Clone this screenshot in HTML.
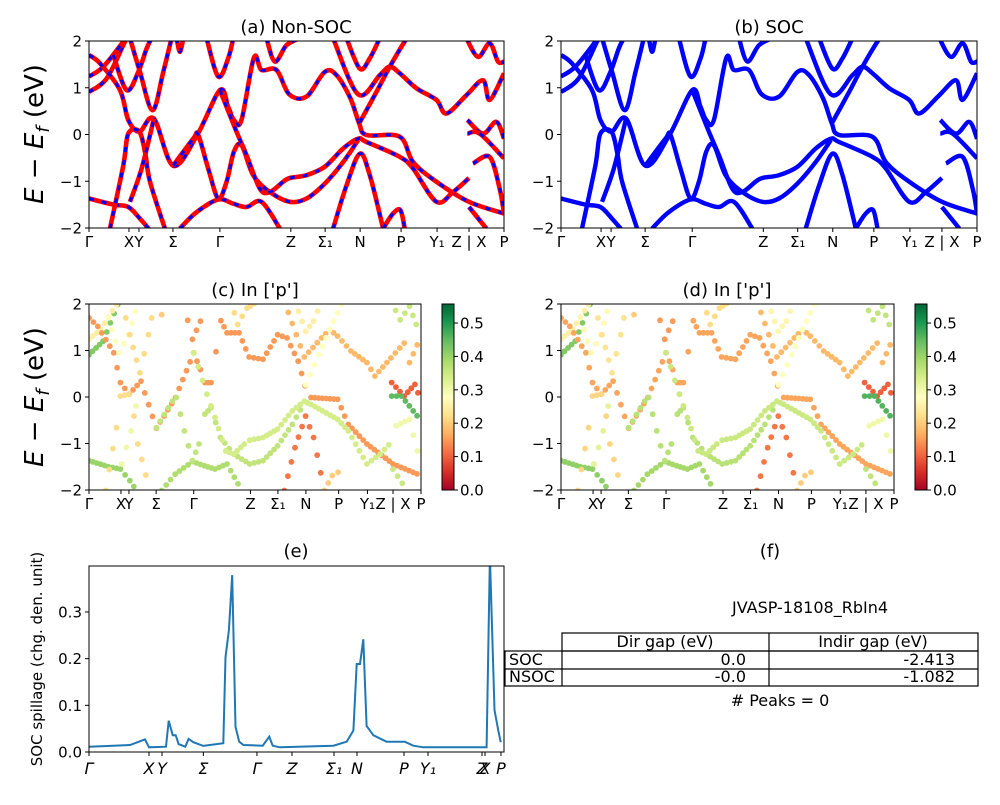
<!DOCTYPE html>
<html><head><meta charset="utf-8"><style>
body{margin:0;background:#fff;}
svg text{font-family:"DejaVu Sans","Liberation Sans",sans-serif;}
</style></head><body>
<svg id="fig" width="1000" height="800" viewBox="0 0 1000 800" xmlns="http://www.w3.org/2000/svg">
<defs>
<linearGradient id="rdylgn" x1="0" y1="1" x2="0" y2="0">
<stop offset="0" stop-color="#a50026"/><stop offset="0.1" stop-color="#d73027"/><stop offset="0.2" stop-color="#f46d43"/><stop offset="0.3" stop-color="#fdae61"/><stop offset="0.4" stop-color="#fee08b"/><stop offset="0.5" stop-color="#ffffbf"/><stop offset="0.6" stop-color="#d9ef8b"/><stop offset="0.7" stop-color="#a6d96a"/><stop offset="0.8" stop-color="#66bd63"/><stop offset="0.9" stop-color="#1a9850"/><stop offset="1" stop-color="#006837"/>
</linearGradient>
</defs>
<g id="root"></g>
</svg>
<script>
// ---- data ----
const kTotal = 1246;
const kTickPos = [0, 120, 150, 252, 393, 606, 709, 814, 937, 1045, 1141, 1246];
const kTickLabels = ["Γ","X","Y","Σ","Γ","Z","Σ₁","N","P","Y₁","Z | X","P"];
const eTicks = [2, 1, 0, -1, -2];
const eTickLabels = ["2","1","0","−1","−2"];
// bands: [k path distance, energy eV]
const band1 = [[0,0.91],[53,1.2],[108,1.99],[118,2.13]];
const band2 = [[0,1.24],[43,1.45],[103,1.99],[113,2.13]];
const band3 = [[0,1.7],[33,1.52],[93,0.95],[118,0.31],[151,0.06],[195,0.34],[253,-0.67],[325,-0.01],[393,0.95],[418,0.59],[435,0.31],[458,0.31],[495,1.64],[518,1.38],[563,1.38],[601,0.86],[653,0.81],[708,1.34],[743,1.27],[785,0.77],[811,0.24],[833,-0.01],[933,-0.05],[973,-0.59],[1043,-1.01],[1141,-1.44],[1246,-1.69]];
const band4 = [[0,-1.37],[73,-1.5],[118,-1.55],[153,-1.8],[183,-2.05]];
const band5 = [[63,-2.01],[103,-0.66],[118,0.02],[151,0.06],[169,-0.41],[183,-1.01],[228,-2.01]];
const band6 = [[73,1.7],[113,0.95],[148,1.34],[173,1.84],[188,2.06]];
const band7 = [[123,2.06],[153,1.34],[191,0.52],[223,1.34],[248,2.06]];
const band8 = [[123,-1.44],[158,-0.73],[195,0.34]];
const band9 = [[273,-2.01],[323,-1.66],[388,-1.39],[433,-1.48],[473,-1.55],[518,-1.44],[573,-2.01]];
const band10 = [[253,-0.66],[313,-0.09],[328,-0.01],[358,-0.73],[388,-1.37],[413,-1.01],[435,-0.37],[458,-0.23],[493,-0.87],[543,-1.23],[603,-1.44],[653,-1.37],[708,-1.05],[763,-0.59],[808,-0.12]];
const band11 = [[393,0.95],[443,0.06],[473,-0.44],[513,-1.16],[543,-1.23],[583,-1.01],[603,-0.93],[653,-0.87],[708,-0.69],[763,-0.3],[808,-0.09],[833,-0.16],[933,-0.48],[973,-0.73],[1043,-1.44],[1093,-1.23],[1141,-0.93]];
const band12 = [[263,2.06],[273,1.77],[283,2.06]];
const band13 = [[353,2.06],[388,1.24],[418,1.63],[433,2.06]];
const band14 = [[533,2.06],[558,1.56],[593,1.91],[633,2.06]];
const band15 = [[733,2.06],[808,0.86],[873,1.27],[903,1.45],[933,1.31],[983,0.99],[1043,0.74],[1073,0.45],[1133,0.84],[1183,1.16],[1203,0.74],[1246,1.31]];
const band16 = [[773,2.06],[813,1.41],[843,1.63],[873,2.06]];
const band17 = [[813,0.26],[863,0.91],[903,1.45],[948,1.99],[958,2.06]];
const band18 = [[733,-2.01],[773,-1.09],[813,-0.41],[843,-0.87],[883,-2.01]];
const band19 = [[883,-2.01],[913,-1.69],[935,-1.62],[948,-2.01]];
const band20 = [[1133,2.06],[1168,1.66],[1203,1.95],[1228,1.56],[1246,1.56]];
const band21 = [[1136,0.31],[1183,0.02],[1223,0.27],[1246,-0.09]];
const band22 = [[1136,0.02],[1173,0.02],[1246,-0.51]];
const band23 = [[1141,-1.55],[1193,-2.01]];
const band24 = [[1153,-0.62],[1203,-0.48],[1233,-1.16],[1246,-1.69]];
const bands = [band1,band2,band3,band4,band5,band6,band7,band8,band9,band10,band11,band12,band13,band14,band15,band16,band17,band18,band19,band20,band21,band22,band23,band24];
// In-p orbital weight per band
const weightsC = [0.42,0.25,0.15,0.4,0.22,0.28,0.22,0.3,0.38,0.36,0.34,0.2,0.15,0.22,0.18,0.25,0.28,0.12,0.2,0.35,0.1,0.45,0.35,0.3];
const weightsD = [0.42,0.25,0.16,0.41,0.21,0.27,0.23,0.32,0.39,0.37,0.35,0.2,0.15,0.22,0.18,0.26,0.28,0.12,0.2,0.36,0.1,0.46,0.36,0.3];
const cbTicks = [0,0.1,0.2,0.3,0.4,0.5];
const cbMax = 0.557;
// spillage
const spillK = [0,0.0988,0.135,0.1446,0.1855,0.192,0.2016,0.2088,0.216,0.232,0.240,0.2514,0.2755,0.3237,0.329,0.337,0.345,0.353,0.362,0.372,0.4185,0.4345,0.4426,0.460,0.5888,0.621,0.637,0.645,0.653,0.661,0.669,0.685,0.717,0.761,0.7815,0.8055,0.958,0.966,0.977,0.986,0.992];
const spillV = [0.0114,0.015,0.027,0.010,0.0114,0.067,0.036,0.036,0.017,0.0114,0.028,0.021,0.013,0.0186,0.203,0.261,0.379,0.054,0.022,0.015,0.0136,0.033,0.0136,0.010,0.0136,0.022,0.046,0.1886,0.1886,0.2414,0.056,0.036,0.022,0.022,0.0136,0.010,0.010,0.42,0.09,0.047,0.021];
const spillTicksX = [0,0.1446,0.1759,0.2755,0.4047,0.4891,0.5904,0.6458,0.7590,0.8169,0.9470,0.9542,0.9927];
const spillTickLabels = ["Γ","X","Y","Σ","Γ","Z","Σ₁","N","P","Y₁","Z","X","P"];
const spillYTicks = [0,0.1,0.2,0.3];
const spillYMax = 0.3985;

// ---- helpers ----
const NS="http://www.w3.org/2000/svg";
const root=document.getElementById('root');
function mk(tag,attrs,parent){const e=document.createElementNS(NS,tag);for(const k in attrs)e.setAttribute(k,attrs[k]);(parent||root).appendChild(e);return e;}
function txt(s,x,y,size,anchor,parent,extra){const t=mk('text',Object.assign({x:x,y:y,'font-size':size,'text-anchor':anchor||'middle',fill:'#000'},extra||{}),parent);t.textContent=s;return t;}
function smoothPath(pts){if(pts.length<3){return 'M'+pts.map(p=>p[0].toFixed(1)+','+p[1].toFixed(1)).join('L');}
 let d='M'+pts[0][0].toFixed(1)+','+pts[0][1].toFixed(1);
 for(let i=0;i<pts.length-1;i++){const p0=pts[Math.max(0,i-1)],p1=pts[i],p2=pts[i+1],p3=pts[Math.min(pts.length-1,i+2)];
  const c1=[p1[0]+(p2[0]-p0[0])/6,p1[1]+(p2[1]-p0[1])/6],c2=[p2[0]-(p3[0]-p1[0])/6,p2[1]-(p3[1]-p1[1])/6];
  d+='C'+c1[0].toFixed(1)+','+c1[1].toFixed(1)+' '+c2[0].toFixed(1)+','+c2[1].toFixed(1)+' '+p2[0].toFixed(1)+','+p2[1].toFixed(1);}
 return d;}
function cmap(v){const stops=["#a50026","#d73027","#f46d43","#fdae61","#fee08b","#ffffbf","#d9ef8b","#a6d96a","#66bd63","#1a9850","#006837"];
 let t=Math.max(0,Math.min(1,v/cbMax))*10;const i=Math.min(9,Math.floor(t)),f=t-i;
 const a=stops[i],b=stops[i+1];const h=(s,o)=>parseInt(s.substr(o,2),16);
 const r=Math.round(h(a,1)+(h(b,1)-h(a,1))*f),g=Math.round(h(a,3)+(h(b,3)-h(a,3))*f),bb=Math.round(h(a,5)+(h(b,5)-h(a,5))*f);
 return 'rgb('+r+','+g+','+bb+')';}
let clipId=0;
function makeAxes(name,x0,x1,y0,y1,tickLabelSize){
 const g=mk('g',{});
 
 
 const sx=k=>x0+(k/kTotal)*(x1-x0), sy=e=>y0+(2-e)/4*(y1-y0);
 const cid='clip'+(clipId++);
 const cp=mk('clipPath',{id:cid},g);mk('rect',{x:x0,y:y0,width:x1-x0,height:y1-y0},cp);
 const plot=mk('g',{'clip-path':'url(#'+cid+')'},g);
 
 
 const frame=mk('rect',{x:x0,y:y0,width:x1-x0,height:y1-y0,fill:'none',stroke:'#000','stroke-width':1},g);
 
 
 const xt=mk('g',{},g);
 
 
 kTickPos.forEach((k,i)=>{const x=sx(k);mk('line',{x1:x,x2:x,y1:y1,y2:y1+4,stroke:'#000'},xt);
  const lab=kTickLabels[i];
  const t=txt(lab,x,y1+19,tickLabelSize,'middle',xt);
  
  });
 const yt=mk('g',{},g);
 
 
 eTicks.forEach((e,i)=>{const y=sy(e);mk('line',{x1:x0-4,x2:x0,y1:y,y2:y,stroke:'#000'},yt);
  const t=txt(eTickLabels[i],x0-7,y+5.5,15,'end',yt);
  
  });
 return {plot,sx,sy};
}
function drawLines(ax,soc){
 bands.forEach((b,i)=>{const pts=b.map(p=>[ax.sx(p[0]),ax.sy(p[1])]);const d=smoothPath(pts);
  if(soc){const p=mk('path',{d:d,fill:'none',stroke:'#0000ff','stroke-width':4.4,'stroke-linejoin':'round'},ax.plot);
   
   }
  else{const p=mk('path',{d:d,fill:'none',stroke:'#ff0000','stroke-width':4.6,'stroke-linejoin':'round'},ax.plot);
   
   
   const q=mk('path',{d:d,fill:'none',stroke:'#0000ff','stroke-width':3,'stroke-dasharray':'5 8'},ax.plot);
   
   }
 });
}
function drawDots(ax,weights){
 bands.forEach((b,i)=>{
  const step=15;
  for(let j=0;j<b.length-1;j++){const a=b[j],c=b[j+1];const len=c[0]-a[0];const n=Math.max(1,Math.round(len/step));
   for(let s=0;s<n;s++){const f=s/n;const k=a[0]+len*f,e=a[1]+(c[1]-a[1])*f;
    const dot=mk('circle',{cx:ax.sx(k).toFixed(1),cy:ax.sy(e).toFixed(1),r:2.9,fill:cmap(weights[i])},ax.plot);
    
    }}
 });
}
function colorbar(name,x,y0,y1){
 const g=mk('g',{});
 
 
 mk('rect',{x:x,y:y0,width:12,height:y1-y0,fill:'url(#rdylgn)',stroke:'#000','stroke-width':1},g);
 cbTicks.forEach(v=>{const y=y1-(v/cbMax)*(y1-y0);mk('line',{x1:x+12,x2:x+16,y1:y,y2:y,stroke:'#000'},g);
  const t=txt(v.toFixed(1),x+18,y+5.5,15,'start',g);
  
  });
}
function title(s,x,y,name,size){const t=txt(s,x,y,size||18,'middle');return t;}
function ylab(x,y,name){const t=mk('text',{x:0,y:0,'font-size':26,'text-anchor':'middle',transform:'translate('+x+','+y+') rotate(-90)'});
 
 t.innerHTML='<tspan font-style="italic">E</tspan> − <tspan font-style="italic">E</tspan><tspan font-size="18" dy="6" font-style="italic">f</tspan><tspan dy="-6"> (eV)</tspan>';}

// panels
title('(a) Non-SOC',296,33,'title-a');
const axA=makeAxes('panel-a-nonsoc',89,504,41,228,15);drawLines(axA,false);
title('(b) SOC',769,33,'title-b');
const axB=makeAxes('panel-b-soc',561,977,41,228,15);drawLines(axB,true);
ylab(43,134,'y-axis-title-top');
title("(c)  In ['p']",255,296,'title-c');
const axC=makeAxes('panel-c-in-p',89,421,304,490,15);drawDots(axC,weightsC);
colorbar('colorbar-c',442,304,490);
title("(d) In ['p']",727,296,'title-d');
const axD=makeAxes('panel-d-in-p',561,894,304,490,15);drawDots(axD,weightsD);
colorbar('colorbar-d',915,304,490);
ylab(43,397,'y-axis-title-middle');

// panel e
title('(e)',296,557,'title-e');
(function(){const x0=89,x1=504,y0=566,y1=752;
 const g=mk('g',{});
 const sx=f=>x0+f*(x1-x0), sy=v=>y1-(v/spillYMax)*(y1-y0);
 const cp=mk('clipPath',{id:'clipE'},g);mk('rect',{x:x0,y:y0,width:x1-x0,height:y1-y0},cp);
 const d='M'+spillK.map((k,i)=>sx(k).toFixed(1)+','+sy(spillV[i]).toFixed(1)).join('L');
 const p=mk('path',{d:d,fill:'none',stroke:'#1f77b4','stroke-width':2,'clip-path':'url(#clipE)'},g);
 
 mk('rect',{x:x0,y:y0,width:x1-x0,height:y1-y0,fill:'none',stroke:'#000'},g);
 spillTicksX.forEach((f,i)=>{const x=sx(f);mk('line',{x1:x,x2:x,y1:y1,y2:y1+4,stroke:'#000'},g);
  const t=txt(spillTickLabels[i],x,y1+22,16,'middle',g,{'font-style':'italic'});
  });
 spillYTicks.forEach(v=>{const y=sy(v);mk('line',{x1:x0-4,x2:x0,y1:y,y2:y,stroke:'#000'},g);
  const t=txt(v.toFixed(1),x0-7,y+5.5,15,'end',g);
  });
 const yl=mk('text',{x:0,y:0,'font-size':15,'text-anchor':'middle',transform:'translate(42,659) rotate(-90)'},g);
 yl.textContent='SOC spillage (chg. den. unit)';
})();

// panel f
title('(f)',770,557,'title-f');
title('JVASP-18108_RbIn4',810,613,'material-id',16);
(function(){const g=mk('g',{'stroke':'#000','fill':'none','stroke-width':1.2});
 
 mk('rect',{x:562,y:633,width:416,height:18},g);
 mk('rect',{x:505,y:651,width:473,height:35},g);
 mk('line',{x1:505,x2:978,y1:669,y2:669},g);
 mk('line',{x1:562,x2:562,y1:651,y2:686},g);
 mk('line',{x1:769,x2:769,y1:633,y2:686},g);
 const cells=[['Dir gap (eV)',665,647,'middle'],['Indir gap (eV)',873,647,'middle'],['SOC',509,665,'start'],['0.0',746,665,'end'],['-2.413',955,665,'end'],['NSOC',509,682,'start'],['-0.0',746,682,'end'],['-1.082',955,682,'end']];
 cells.forEach(c=>{const t=txt(c[0],c[1],c[2],16,c[3]);});
})();
title('# Peaks = 0',780,706,'peaks-count',16);
</script>
</body></html>
